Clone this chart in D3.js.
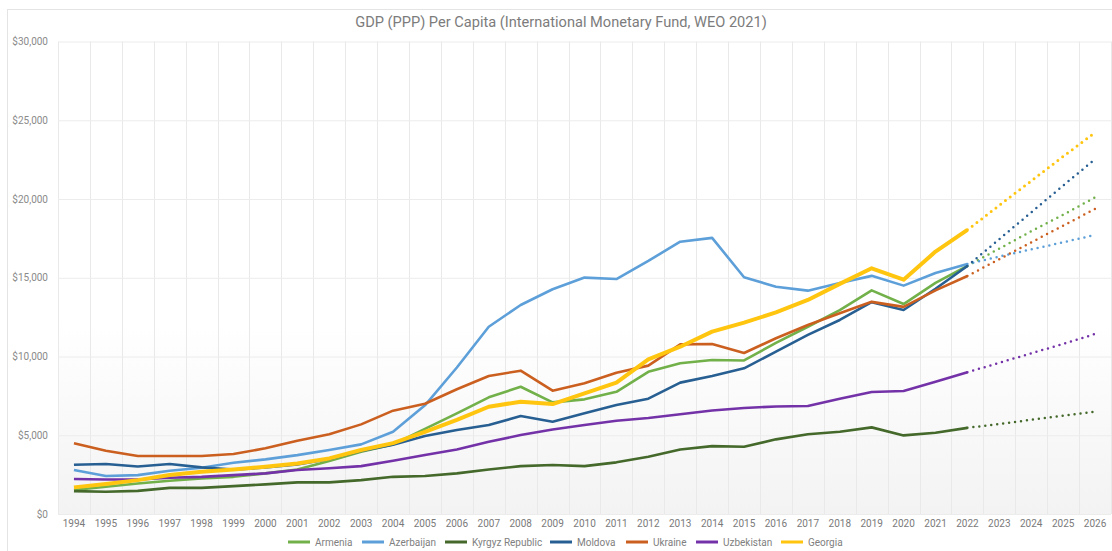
<!DOCTYPE html>
<html>
<head>
<meta charset="utf-8">
<script src="https://cdn.jsdelivr.net/npm/d3@7"></script>
<style>
	body { margin: 0; background: #ffffff; }
	text { font-family: Roboto, "Noto Sans", sans-serif; }
</style>
</head>
<body>
<div id="viz"></div>
<script>

// years on the category axis, 1994 .. 2026
var years = ["1994","1995","1996","1997","1998","1999","2000","2001","2002","2003","2004",
	"2005","2006","2007","2008","2009","2010","2011","2012","2013","2014","2015",
	"2016","2017","2018","2019","2020","2021","2022","2023","2024","2025","2026"];

// last year with actual data, after that the values are forecasts (dotted)
var lastActualYear = "2022";

var yTicks = [0, 5000, 10000, 15000, 20000, 25000, 30000];

var armenia = [1520,1730,1940,2110,2260,2360,2580,2830,3360,3950,4420,
	5400,6390,7410,8080,7090,7280,7760,9030,9570,9780,9750,
	10860,11890,12950,14200,13330,14670,15750,16850,17950,19000,20100];

var azerbaijan = [2790,2410,2470,2750,2940,3250,3470,3740,4060,4420,5220,
	6900,9300,11890,13270,14270,15010,14920,16070,17290,17530,15030,
	14430,14180,14670,15120,14500,15300,15870,16350,16800,17250,17720];

var kyrgyz = [1450,1410,1470,1660,1660,1770,1880,2010,2010,2150,2360,
	2410,2580,2830,3040,3110,3040,3280,3630,4100,4310,4270,
	4740,5060,5220,5500,4990,5160,5470,5720,5980,6240,6490];

var moldova = [3130,3170,3020,3170,2960,2820,2950,3150,3500,4000,4400,
	4950,5330,5650,6220,5860,6390,6920,7320,8340,8760,9250,
	10310,11370,12320,13450,12950,14300,15750,17450,19150,20850,22530];

var ukraine = [4490,4020,3680,3680,3680,3810,4170,4650,5060,5690,6560,
	7000,7920,8760,9100,7830,8300,8970,9420,10770,10790,10220,
	11160,12000,12740,13470,13150,14200,15110,16180,17250,18300,19370];

var uzbekistan = [2220,2190,2190,2300,2360,2470,2580,2790,2900,3040,3380,
	3740,4100,4590,5010,5370,5650,5920,6100,6330,6570,6730,
	6830,6860,7320,7750,7810,8400,9000,9600,10200,10800,11430];

var georgia = [1690,1900,2150,2470,2680,2830,3000,3210,3530,4060,4500,
	5220,5970,6810,7130,6980,7660,8340,9820,10620,11580,12150,
	12800,13590,14610,15600,14880,16660,18040,19600,21150,22700,24220];

var seriesNames = ["Armenia","Azerbaijan","Kyrgyz Republic","Moldova","Ukraine","Uzbekistan","Georgia"];
var seriesValues = [armenia, azerbaijan, kyrgyz, moldova, ukraine, uzbekistan, georgia];
var seriesColors = ["#72b04a","#5d9fd8","#44692b","#275f92","#cb5f1f","#7432a8","#ffc50f"];

var width = 1112, height = 551;
var plotLeft = 58, plotRight = 1111, plotTop = 41.5, plotBottom = 514;

function setUpSvg(){

	var svg = d3.select("#viz")
		.append("svg")
		.attr("width", width)
		.attr("height", height);

	// card frame
	svg.append("rect")
		.attr("x", 7.5)
		.attr("y", 9.5)
		.attr("width", 1115)
		.attr("height", 560)
		.style("fill", "#ffffff")
		.style("stroke", "#e4e4e4");

	return svg;
}

function drawBackground(svg){

	var grad = svg.append("defs").append("linearGradient")
		.attr("id", "plotBg")
		.attr("x1", 0).attr("y1", 0).attr("x2", 0).attr("y2", 1);
	grad.append("stop").attr("offset", "0%").attr("stop-color", "#ffffff");
	grad.append("stop").attr("offset", "60%").attr("stop-color", "#ffffff");
	grad.append("stop").attr("offset", "100%").attr("stop-color", "#f3f3f3");

	svg.append("rect")
		.attr("x", plotLeft)
		.attr("y", plotTop)
		.attr("width", plotRight - plotLeft)
		.attr("height", plotBottom - plotTop)
		.style("fill", "url(#plotBg)");
}

function drawChart(){

	var svg = setUpSvg();
	drawBackground(svg);

	var x = d3.scaleBand()
		.domain(years)
		.range([plotLeft, plotRight])
		.padding(0);

	var y = d3.scaleLinear()
		.domain([0, 30000])
		.range([plotBottom, plotTop]);

	var fmt = d3.format("$,");

	// vertical grid lines sit on band boundaries
	var bounds = years.map(function(d){ return x(d); }).concat([plotRight]);
	svg.append("g").selectAll("line")
		.data(bounds)
		.join("line")
		.attr("x1", function(d){ return Math.round(d) + 0.5; })
		.attr("x2", function(d){ return Math.round(d) + 0.5; })
		.attr("y1", plotTop)
		.attr("y2", plotBottom)
		.style("stroke", "#e9e9e9");

	// y axis with grid lines
	var yAxis = svg.append("g")
		.attr("transform", "translate(" + plotLeft + ",0)")
		.call(d3.axisLeft(y)
			.tickValues(yTicks)
			.tickFormat(fmt)
			.tickSize(-(plotRight - plotLeft))
			.tickPadding(10));
	yAxis.select(".domain").remove();
	yAxis.selectAll(".tick line").style("stroke", "#ececec");
	yAxis.selectAll(".tick text")
		.style("fill", "#8a8a8a")
		.style("font-size", "10px");

	// x axis labels
	var xAxis = svg.append("g")
		.attr("transform", "translate(0," + plotBottom + ")")
		.call(d3.axisBottom(x).tickSize(0).tickPadding(6));
	xAxis.select(".domain").remove();
	xAxis.selectAll(".tick text")
		.style("fill", "#7a7a7a")
		.style("font-size", "10px");

	// title
	svg.append("text")
		.attr("x", 561)
		.attr("y", 27)
		.attr("text-anchor", "middle")
		.style("fill", "#7c7c7c")
		.style("font-size", "14.6px")
		.text("GDP (PPP) Per Capita (International Monetary Fund, WEO 2021)");

	var line = d3.line()
		.x(function(d){ return x(d.year) + x.bandwidth() / 2; })
		.y(function(d){ return y(d.value); });

	var cut = years.indexOf(lastActualYear);

	seriesValues.forEach(function(values, i){

		var pts = values.map(function(v, j){ return {year: years[j], value: v}; });
		var isGeorgia = seriesNames[i] == "Georgia";

		// forecast part, dotted
		svg.append("path")
			.datum(pts.slice(cut))
			.attr("d", line)
			.style("fill", "none")
			.style("stroke", seriesColors[i])
			.style("stroke-width", isGeorgia ? 3 : 2.5)
			.style("stroke-linecap", "round")
			.style("stroke-dasharray", "0,6");

		// actual part
		svg.append("path")
			.datum(pts.slice(0, cut + 1))
			.attr("d", line)
			.style("fill", "none")
			.style("stroke", seriesColors[i])
			.style("stroke-width", isGeorgia ? 4 : 2.6)
			.style("stroke-linejoin", "round");
	});

	drawLegend(svg);
}

function drawLegend(svg){

	// legend item start positions
	var itemX = [288, 362, 445, 550, 626, 696, 781];
	var g = svg.append("g");

	seriesNames.forEach(function(name, i){

		g.append("line")
			.attr("x1", itemX[i])
			.attr("x2", itemX[i] + 22)
			.attr("y1", 542)
			.attr("y2", 542)
			.style("stroke", seriesColors[i])
			.style("stroke-width", 3);

		g.append("text")
			.attr("x", itemX[i] + 27)
			.attr("y", 545.5)
			.style("fill", "#808080")
			.style("font-size", "10px")
			.text(name);
	});
}

drawChart();
</script>
</body>
</html>
